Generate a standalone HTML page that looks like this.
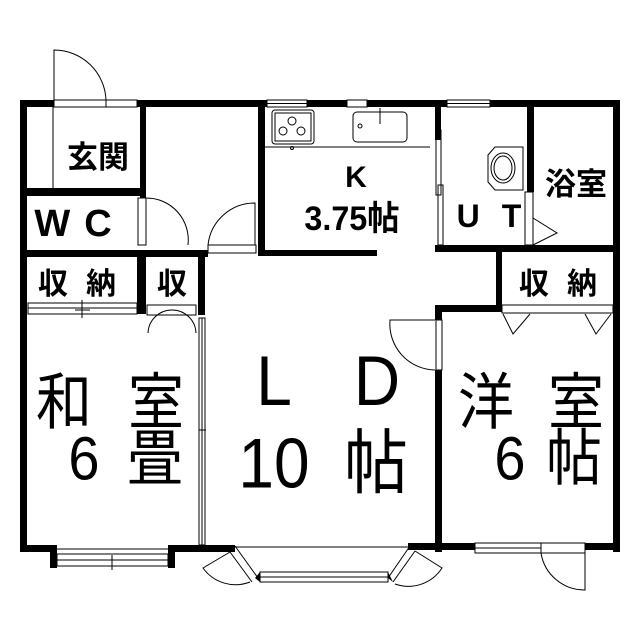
<!DOCTYPE html>
<html><head><meta charset="utf-8"><style>
html,body{margin:0;padding:0;background:#fff}
svg{display:block}
text{font-family:"Liberation Sans","Noto Sans CJK JP",sans-serif;fill:#000}
.b{font-weight:bold}
</style></head><body>
<svg width="640" height="640" viewBox="0 0 640 640" xmlns="http://www.w3.org/2000/svg">
<g fill="#000">
<rect x="20" y="100" width="34" height="7"/>
<rect x="137" y="100" width="130" height="7"/>
<rect x="307" y="100" width="40" height="7"/>
<rect x="367" y="100" width="80" height="7"/>
<rect x="490" y="100" width="130" height="7"/>
<rect x="20" y="100" width="7" height="452"/>
<rect x="613" y="100" width="7" height="452"/>
<rect x="140" y="100" width="6" height="98"/>
<rect x="20" y="188" width="126" height="8"/>
<rect x="20" y="250" width="188" height="7"/>
<rect x="137" y="250" width="9" height="64"/>
<rect x="198" y="250" width="7" height="65"/>
<rect x="258" y="100" width="7" height="156"/>
<rect x="258" y="250" width="119" height="6"/>
<rect x="435" y="100" width="6" height="40"/>
<rect x="435" y="245" width="185" height="7"/>
<rect x="527" y="100" width="7" height="92"/>
<rect x="496" y="250" width="6" height="62"/>
<rect x="435" y="305" width="67" height="7"/>
<rect x="435" y="305" width="7" height="15"/>
<rect x="435" y="370" width="7" height="182"/>
<rect x="20" y="545" width="37" height="7"/>
<rect x="168" y="545" width="67" height="7"/>
<rect x="50" y="545" width="7" height="23"/>
<rect x="168" y="545" width="7" height="23"/>
<rect x="408" y="543" width="67" height="7"/>
<rect x="585" y="543" width="35" height="7"/>
</g>
<g fill="none" stroke="#000" stroke-width="1">
<rect x="54" y="100" width="83" height="7"/>
<line x1="106" y1="100" x2="106" y2="107"/>
<path d="M54 100 L54 50 A52 52 0 0 1 106 100"/>
<line x1="53" y1="107" x2="53" y2="188"/>
<rect x="267" y="100" width="40" height="7"/><line x1="267" y1="103.5" x2="307" y2="103.5"/>
<rect x="347" y="100" width="20" height="7"/>
<rect x="447" y="100" width="43" height="7"/><line x1="447" y1="103.5" x2="490" y2="103.5"/>
<rect x="272" y="110" width="42" height="34" rx="3"/>
<rect x="275" y="113" width="36" height="28"/>
<circle cx="292" cy="121" r="4"/><circle cx="283" cy="131" r="4"/><circle cx="301" cy="131" r="4"/>
<circle cx="292" cy="148" r="1.5"/>
<line x1="265" y1="147" x2="430" y2="147"/>
<rect x="353" y="112" width="54" height="30" rx="4"/>
<circle cx="360" cy="126" r="2"/><line x1="380" y1="108" x2="380" y2="124"/>
<rect x="436" y="130" width="5" height="65"/>
<rect x="438" y="185" width="5" height="60"/>
<rect x="138" y="198" width="8" height="47"/>
<path d="M146 198 A42 42 0 0 1 188 245"/>
<rect x="208" y="245" width="48" height="8"/>
<path d="M208 245 A47 47 0 0 1 255 203 L255 245"/>
<path d="M495 147 L523 147 L523 190 L495 190 L488 182 L488 155 Z"/>
<ellipse cx="503" cy="168" rx="12" ry="15"/><ellipse cx="503" cy="168" rx="9" ry="12"/>
<rect x="525" y="192" width="8" height="53"/>
<path d="M533 218 L557 233 L533 245"/>
<rect x="28" y="303" width="109" height="11"/><line x1="28" y1="308" x2="137" y2="308"/><line x1="82" y1="300" x2="82" y2="318"/><line x1="75" y1="310" x2="90" y2="310"/>
<rect x="147" y="305" width="49" height="10"/>
<path d="M148 333 A24 24 0 0 1 172 310 A24 24 0 0 1 196 333"/>
<rect x="502" y="305" width="111" height="8"/>
<path d="M503 314 L513 334 L530 314 M585 314 L596 334 L611 314"/>
<rect x="199" y="318" width="6" height="227"/>
<line x1="202" y1="318" x2="202" y2="545"/>
<line x1="199" y1="430" x2="206" y2="430"/>
<path d="M435 320 L390 320 A46 46 0 0 0 435 370"/>
<rect x="436" y="320" width="6" height="50"/>
<rect x="57" y="554" width="111" height="12"/><line x1="57" y1="560" x2="168" y2="560"/><line x1="112" y1="555" x2="112" y2="570"/>
<line x1="57" y1="549" x2="168" y2="549"/>
<line x1="235" y1="547" x2="408" y2="547"/>
<path d="M235 546 L258 578 M230 552 L252 582"/>
<path d="M230 552 L203 568 A40 40 0 0 0 250 582"/>
<rect x="260" y="572" width="128" height="10"/><line x1="260" y1="577" x2="388" y2="577"/>
<path d="M410 546 L388 578 M415 551 L393 582"/>
<path d="M415 551 L442 568 A40 40 0 0 1 395 584"/>
<rect x="475" y="543" width="66" height="10"/><line x1="475" y1="548" x2="541" y2="548"/>
<rect x="541" y="543" width="44" height="10"/>
<path d="M541 553 A44 44 0 0 0 585 590 L585 553"/>
</g>
<g fill="#000">
<polygon points="255,578 260,572 260,582"/>
<polygon points="388,578 388,572 393,582"/>
</g>
<g text-anchor="middle" class="b">
<text x="98" y="168" font-size="31">玄関</text>
<text x="80" y="236" font-size="38" letter-spacing="14">WC</text>
<text x="86" y="294" font-size="30" letter-spacing="18">収納</text>
<text x="172" y="294" font-size="30">収</text>
<text x="356" y="187" font-size="30">K</text>
<text x="352" y="230" font-size="34" transform="translate(352 0) scale(0.95 1) translate(-352 0)">3.75帖</text>
<text x="500" y="227" font-size="32" letter-spacing="22">UT</text>
<text x="576" y="195" font-size="31">浴室</text>
<text x="567" y="294" font-size="30" letter-spacing="18">収納</text>
</g>
<g text-anchor="middle" transform="scale(1 1.1)">
<text x="274" y="368" font-size="64">L</text>
<text x="377" y="368" font-size="64">D</text>
<text x="274" y="443" font-size="64">10</text>
<text x="376" y="443" font-size="64">帖</text>
<text x="64" y="385" font-size="56">和</text>
<text x="156" y="385" font-size="56">室</text>
<text x="84" y="436" font-size="56">6</text>
<text x="155" y="436" font-size="56">畳</text>
<text x="486" y="385" font-size="56">洋</text>
<text x="576" y="385" font-size="56">室</text>
<text x="510" y="436" font-size="56">6</text>
<text x="574" y="436" font-size="56">帖</text>
</g>
</svg>
</body></html>
